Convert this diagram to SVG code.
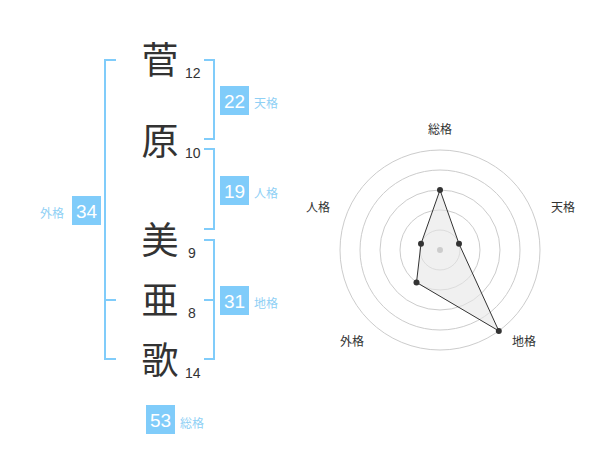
<svg xmlns="http://www.w3.org/2000/svg" width="600" height="470" viewBox="0 0 600 470">
<style>
.k{font-family:"Noto Sans CJK JP","Noto Sans",sans-serif;font-size:37px;fill:#333;text-anchor:middle}
.n{font-family:"Liberation Sans","Noto Sans",sans-serif;font-size:14px;fill:#333}
.br{fill:none;stroke:#80ccfa;stroke-width:2}
.bx{fill:#80ccfa}
.bt{font-family:"Liberation Sans","Noto Sans",sans-serif;font-size:19px;fill:#fff;text-anchor:middle}
.bl{font-family:"Noto Sans CJK JP",sans-serif;font-size:12px;fill:#8fd0f5}
.ring{fill:none;stroke:#ccc;stroke-width:1}
.rl{font-family:"Noto Sans CJK JP",sans-serif;font-size:12px;fill:#333;text-anchor:middle}
.pt{fill:#333}
</style>
<rect width="600" height="470" fill="#fff"/>
<g id="connectors">
<path class="br" d="M116,60 H105 V359 H116 M105,300 H116"/>
<path class="br" d="M204,60 H214 V139 H204"/>
<path class="br" d="M204,149 H214 V229 H204"/>
<path class="br" d="M204,240 H214 V359 H204 M214,300 H204"/>
</g>
<g id="char1"><text class="k" x="160" y="74">菅</text><text class="n" x="185" y="77.5">12</text></g>
<g id="char2"><text class="k" x="160" y="155">原</text><text class="n" x="185" y="158">10</text></g>
<g id="char3"><text class="k" x="160" y="254">美</text><text class="n" x="188" y="258">9</text></g>
<g id="char4"><text class="k" x="160" y="314">亜</text><text class="n" x="188" y="318">8</text></g>
<g id="char5"><text class="k" x="160" y="374">歌</text><text class="n" x="185" y="378">14</text></g>
<g id="tenkaku"><rect class="bx" x="220" y="86" width="29" height="29"/><text class="bt" x="234.5" y="107.5">22</text><text class="bl" x="254" y="108">天格</text></g>
<g id="jinkaku"><rect class="bx" x="220" y="176" width="29" height="29"/><text class="bt" x="234.5" y="197.5">19</text><text class="bl" x="254" y="198">人格</text></g>
<g id="gaikaku"><rect class="bx" x="72" y="196" width="29" height="29"/><text class="bt" x="86.5" y="217.5">34</text><text class="bl" x="40" y="218">外格</text></g>
<g id="chikaku"><rect class="bx" x="220" y="286" width="29" height="29"/><text class="bt" x="234.5" y="307.5">31</text><text class="bl" x="254" y="308">地格</text></g>
<g id="soukaku"><rect class="bx" x="146" y="405" width="29" height="29"/><text class="bt" x="160.5" y="426.5">53</text><text class="bl" x="180" y="428">総格</text></g>
<g id="radar">
<circle class="ring" cx="440" cy="250" r="20"/>
<circle class="ring" cx="440" cy="250" r="40"/>
<circle class="ring" cx="440" cy="250" r="60"/>
<circle class="ring" cx="440" cy="250" r="80"/>
<circle class="ring" cx="440" cy="250" r="100"/>
<polygon points="440,190 459,243.8 498.8,330.9 416.5,282.4 421,243.8" fill="#e6e6e6" fill-opacity="0.6" stroke="#333" stroke-width="1"/>
<circle cx="440" cy="250" r="3" fill="#ccc"/>
<circle class="pt" cx="440" cy="190" r="3"/>
<circle class="pt" cx="459" cy="243.8" r="3"/>
<circle class="pt" cx="498.8" cy="330.9" r="3"/>
<circle class="pt" cx="416.5" cy="282.4" r="3"/>
<circle class="pt" cx="421" cy="243.8" r="3"/>
<text class="rl" x="440" y="134">総格</text>
<text class="rl" x="563" y="212">天格</text>
<text class="rl" x="524" y="346">地格</text>
<text class="rl" x="352" y="346">外格</text>
<text class="rl" x="318" y="212">人格</text>
</g>
</svg>
